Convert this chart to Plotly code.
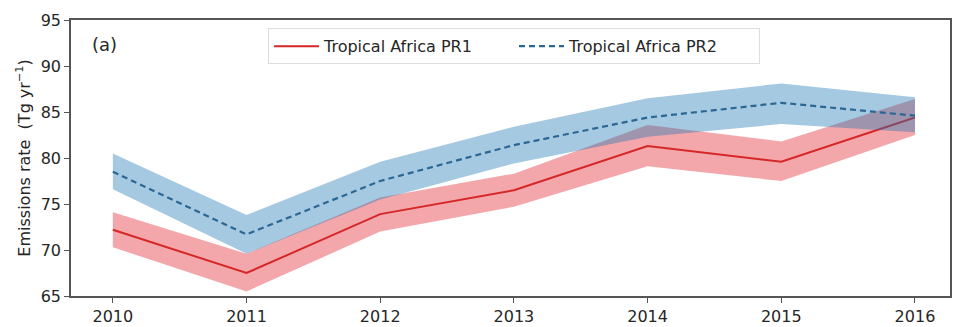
import plotly.graph_objects as go

# Annual emission estimates for Tropical Africa (Tg yr-1), two posterior runs
years = [2010, 2011, 2012, 2013, 2014, 2015, 2016]

pr1_mean = [72.2, 67.5, 73.9, 76.5, 81.3, 79.6, 84.4]
pr1_low = [70.3, 65.5, 72.0, 74.7, 79.1, 77.5, 82.5]
pr1_high = [74.1, 69.6, 75.7, 78.3, 83.6, 81.8, 86.4]

pr2_mean = [78.5, 71.7, 77.5, 81.4, 84.4, 86.0, 84.6]
pr2_low = [76.6, 69.6, 75.5, 79.4, 82.3, 83.7, 82.8]
pr2_high = [80.5, 73.8, 79.6, 83.4, 86.5, 88.1, 86.6]

y_ticks = [65, 70, 75, 80, 85, 90, 95]

RED = "#d62728"
RED_FILL = "rgba(232,80,88,0.50)"
BLUE_LINE = "#2b6794"
BLUE_FILL = "rgba(31,119,180,0.40)"

fig = go.Figure()

# PR1 uncertainty band and mean
fig.add_trace(go.Scatter(x=years, y=pr1_low, mode="lines", line=dict(width=0),
                         showlegend=False, hoverinfo="skip"))
fig.add_trace(go.Scatter(x=years, y=pr1_high, mode="lines", line=dict(width=0),
                         fill="tonexty", fillcolor=RED_FILL,
                         showlegend=False, hoverinfo="skip"))
fig.add_trace(go.Scatter(x=years, y=pr1_mean, mode="lines", name="Tropical Africa PR1",
                         line=dict(color=RED, width=2)))

# PR2 uncertainty band and mean
fig.add_trace(go.Scatter(x=years, y=pr2_low, mode="lines", line=dict(width=0),
                         showlegend=False, hoverinfo="skip"))
fig.add_trace(go.Scatter(x=years, y=pr2_high, mode="lines", line=dict(width=0),
                         fill="tonexty", fillcolor=BLUE_FILL,
                         showlegend=False, hoverinfo="skip"))
fig.add_trace(go.Scatter(x=years, y=pr2_mean, mode="lines", name="Tropical Africa PR2",
                         line=dict(color=BLUE_LINE, width=2.2, dash="6px,4px")))

axis_common = dict(
    showline=True, linecolor="#555555", linewidth=1.5, mirror=True,
    ticks="outside", ticklen=5, tickwidth=1.2, tickcolor="#555555",
    showgrid=False, zeroline=False,
    tickfont=dict(family="DejaVu Sans", size=16, color="#262626"),
)

fig.update_layout(
    width=953, height=327,
    margin=dict(l=71, r=1, t=20, b=27),
    paper_bgcolor="white", plot_bgcolor="white",
    font=dict(family="DejaVu Sans", color="#262626"),
    xaxis=dict(range=[2009.687, 2016.262], tickmode="array", tickvals=years,
               ticktext=[str(y) for y in years], **axis_common),
    yaxis=dict(range=[65, 95], tickmode="array", tickvals=y_ticks,
               ticktext=[str(v) for v in y_ticks],
               title=dict(text="Emissions rate  (Tg yr<sup>\u22121</sup>)",
                          font=dict(family="DejaVu Sans", size=16, color="#262626"),
                          standoff=6),
               **axis_common),
    legend=dict(orientation="h", x=0.504, xanchor="center", y=0.97, yanchor="top",
                traceorder="normal", entrywidth=185, entrywidthmode="pixels",
                bgcolor="rgba(255,255,255,0.9)", bordercolor="#dddddd", borderwidth=1,
                font=dict(family="DejaVu Sans", size=16, color="#262626"),
                itemwidth=45),
    annotations=[dict(text="(a)", xref="paper", yref="paper", x=0.022, y=0.91,
                      xanchor="left", yanchor="middle", showarrow=False,
                      font=dict(family="DejaVu Sans", size=18, color="#262626"))],
)

fig.write_html("out.html")
